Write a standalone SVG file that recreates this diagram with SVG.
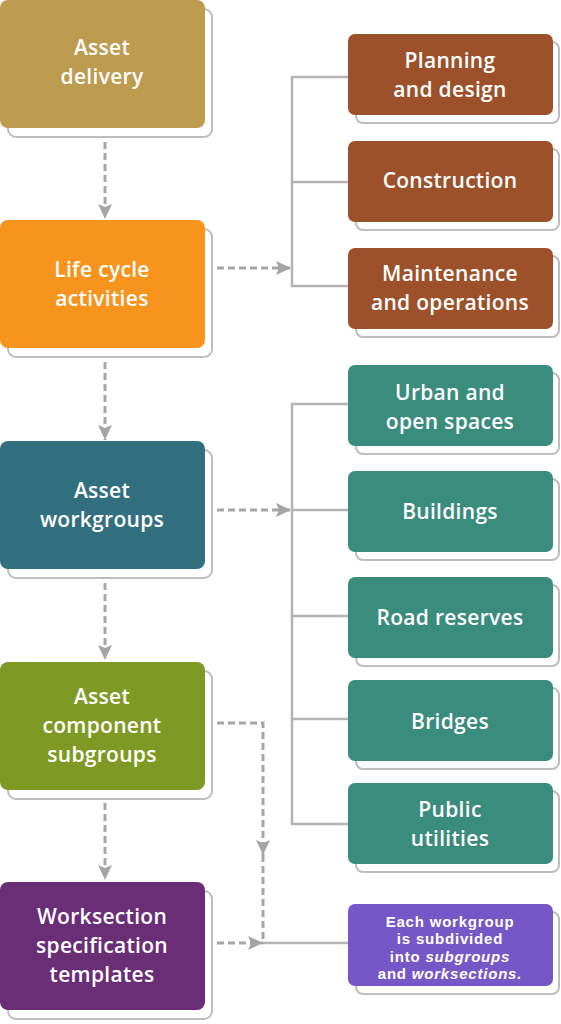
<svg xmlns="http://www.w3.org/2000/svg" width="561" height="1024" viewBox="0 0 561 1024">
<defs>
<marker id="ah" markerUnits="userSpaceOnUse" markerWidth="16" markerHeight="14" refX="15" refY="7" orient="auto">
<path d="M0,0 L15,7 L0,14 L3,7 Z" fill="#A5A5A8"/>
</marker>
</defs>
<style>
.sh{fill:#ffffff;stroke:#BDBDBD;stroke-width:2}
.t{font-family:"Open Sans","Liberation Sans",sans-serif;font-weight:600;fill:#ffffff;text-anchor:middle;font-size:21px;letter-spacing:0.3px}
.ts{font-family:"Liberation Sans","Open Sans",sans-serif;font-weight:700;fill:#ffffff;text-anchor:middle;font-size:15px;letter-spacing:0.8px}
.d{fill:none;stroke:#A5A5A8;stroke-width:3;stroke-dasharray:7 4}
.s{fill:none;stroke:#B4B4B6;stroke-width:2.5}
</style>
<rect width="561" height="1024" fill="#ffffff"/>

<g id="connectors">
<line class="d" x1="105" y1="131" x2="105" y2="219" marker-end="url(#ah)"/>
<line class="d" x1="105" y1="351" x2="105" y2="440" marker-end="url(#ah)"/>
<line class="d" x1="105" y1="572" x2="105" y2="660" marker-end="url(#ah)"/>
<line class="d" x1="105" y1="792" x2="105" y2="880" marker-end="url(#ah)"/>
<line class="d" x1="206" y1="268" x2="291" y2="268" marker-end="url(#ah)"/>
<line class="d" x1="206" y1="510" x2="291" y2="510" marker-end="url(#ah)"/>
<path class="d" d="M206,723 H263 V855" marker-end="url(#ah)"/>
<line class="d" x1="263" y1="855" x2="263" y2="943"/>
<line class="d" x1="206" y1="943" x2="263" y2="943" marker-end="url(#ah)"/>
<line class="s" x1="263" y1="943" x2="348" y2="943"/>
<path class="s" d="M348,77 H292 V286 H348 M292,182 H348"/>
<path class="s" d="M348,404 H292 V824 H348 M292,510 H348 M292,616 H348 M292,719 H348"/>
</g>

<g id="asset-delivery">
<rect class="sh" x="8" y="9" width="204" height="128" rx="8"/>
<rect x="0" y="0" width="205" height="128" rx="8" fill="#BD9B4F"/>
<text class="t" x="102" y="55">Asset</text>
<text class="t" x="102" y="84">delivery</text>
</g>
<g id="life-cycle">
<rect class="sh" x="8" y="229" width="204" height="128" rx="8"/>
<rect x="0" y="220" width="205" height="128" rx="8" fill="#F7941D"/>
<text class="t" x="102" y="277">Life cycle</text>
<text class="t" x="102" y="306">activities</text>
</g>
<g id="asset-workgroups">
<rect class="sh" x="8" y="450" width="204" height="128" rx="8"/>
<rect x="0" y="441" width="205" height="128" rx="8" fill="#33707F"/>
<text class="t" x="102" y="498">Asset</text>
<text class="t" x="102" y="527">workgroups</text>
</g>
<g id="asset-component">
<rect class="sh" x="8" y="671" width="204" height="128" rx="8"/>
<rect x="0" y="662" width="205" height="128" rx="8" fill="#7F9A24"/>
<text class="t" x="102" y="704">Asset</text>
<text class="t" x="102" y="733">component</text>
<text class="t" x="102" y="762">subgroups</text>
</g>
<g id="worksection">
<rect class="sh" x="8" y="891" width="204" height="128" rx="8"/>
<rect x="0" y="882" width="205" height="128" rx="8" fill="#6A2E77"/>
<text class="t" x="102" y="924">Worksection</text>
<text class="t" x="102" y="953">specification</text>
<text class="t" x="102" y="982">templates</text>
</g>

<g id="planning">
<rect class="sh" x="356" y="42" width="203" height="81" rx="7"/>
<rect x="348" y="34" width="205" height="81" rx="7" fill="#9C512A"/>
<text class="t" x="450" y="68">Planning</text>
<text class="t" x="450" y="97">and design</text>
</g>
<g id="construction">
<rect class="sh" x="356" y="149" width="203" height="81" rx="7"/>
<rect x="348" y="141" width="205" height="81" rx="7" fill="#9C512A"/>
<text class="t" x="450" y="188">Construction</text>
</g>
<g id="maintenance">
<rect class="sh" x="356" y="256" width="203" height="81" rx="7"/>
<rect x="348" y="248" width="205" height="81" rx="7" fill="#9C512A"/>
<text class="t" x="450" y="281">Maintenance</text>
<text class="t" x="450" y="310">and operations</text>
</g>

<g id="urban">
<rect class="sh" x="356" y="373" width="203" height="81" rx="7"/>
<rect x="348" y="365" width="205" height="81" rx="7" fill="#3A8C7C"/>
<text class="t" x="450" y="400">Urban and</text>
<text class="t" x="450" y="429">open spaces</text>
</g>
<g id="buildings">
<rect class="sh" x="356" y="479" width="203" height="81" rx="7"/>
<rect x="348" y="471" width="205" height="81" rx="7" fill="#3A8C7C"/>
<text class="t" x="450" y="519">Buildings</text>
</g>
<g id="road-reserves">
<rect class="sh" x="356" y="585" width="203" height="81" rx="7"/>
<rect x="348" y="577" width="205" height="81" rx="7" fill="#3A8C7C"/>
<text class="t" x="450" y="625">Road reserves</text>
</g>
<g id="bridges">
<rect class="sh" x="356" y="688" width="203" height="81" rx="7"/>
<rect x="348" y="680" width="205" height="81" rx="7" fill="#3A8C7C"/>
<text class="t" x="450" y="729">Bridges</text>
</g>
<g id="public-utilities">
<rect class="sh" x="356" y="791" width="203" height="81" rx="7"/>
<rect x="348" y="783" width="205" height="81" rx="7" fill="#3A8C7C"/>
<text class="t" x="450" y="817">Public</text>
<text class="t" x="450" y="846">utilities</text>
</g>

<g id="note">
<rect class="sh" x="356" y="912" width="203" height="82" rx="7"/>
<rect x="348" y="904" width="205" height="82" rx="7" fill="#7657C7"/>
<text class="ts" x="450" y="927">Each workgroup</text>
<text class="ts" x="450" y="944.3">is subdivided</text>
<text class="ts" x="450" y="961.6">into <tspan font-style="italic">subgroups</tspan></text>
<text class="ts" x="450" y="979">and <tspan font-style="italic">worksections.</tspan></text>
</g>
</svg>
